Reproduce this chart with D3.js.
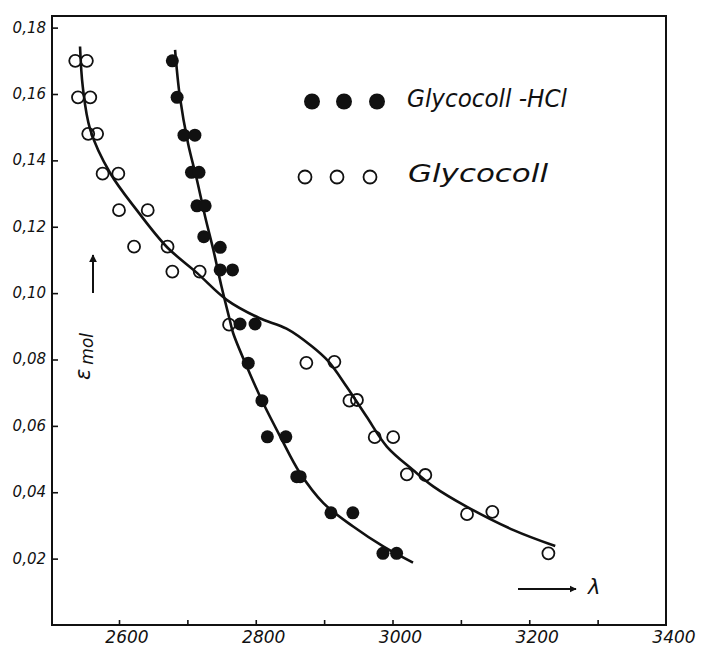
<!DOCTYPE html>
<html>
<head>
<meta charset="utf-8">
<script src="https://cdn.jsdelivr.net/npm/d3@7"></script>
<style>
  body { margin: 0; background: #fff; }
  svg { display: block; }
  text { fill: #111; font-family: "DejaVu Sans", sans-serif; font-style: italic; }
</style>
</head>
<body>
<script>
const width = 701;
const height = 646;

// Measured points, Glycocoll-HCl (filled circles)
const hclLambda = [2678, 2685, 2695, 2711, 2706, 2717, 2714, 2726, 2724, 2748, 2748, 2766,
  2777, 2799, 2789, 2809, 2817, 2844, 2860, 2865, 2910, 2942, 2986, 3006];
const hclEps = [0.170, 0.159, 0.1476, 0.1476, 0.1364, 0.1364, 0.1263, 0.1263, 0.117, 0.1138, 0.107, 0.107,
  0.0907, 0.0907, 0.0789, 0.0676, 0.0567, 0.0567, 0.0447, 0.0447, 0.0338, 0.0338, 0.0216, 0.0216];

// Measured points, Glycocoll (open circles)
const glyLambda = [2536, 2553, 2540, 2558, 2555, 2568, 2576, 2599, 2600, 2642, 2622, 2671, 2678, 2718,
  2761, 2874, 2915, 2937, 2948, 2974, 3001, 3021, 3048, 3109, 3146, 3228];
const glyEps = [0.170, 0.170, 0.159, 0.159, 0.148, 0.148, 0.136, 0.136, 0.125, 0.125, 0.114, 0.114, 0.1065, 0.1065,
  0.0905, 0.079, 0.0793, 0.0676, 0.0678, 0.0566, 0.0566, 0.0454, 0.0452, 0.0334, 0.0341, 0.0216];

// Hand-drawn fitted curves
const hclCurveLambda = [2682, 2689, 2701, 2714, 2726, 2738, 2750, 2762, 2767, 2787, 2811, 2836, 2865, 2899, 2943, 2987, 3030];
const hclCurveEps = [0.1733, 0.1592, 0.1451, 0.1341, 0.1230, 0.1130, 0.1019, 0.0919, 0.0879, 0.0778, 0.0668, 0.0567,
  0.0457, 0.0367, 0.0296, 0.0236, 0.0188];
const glyCurveLambda = [2543, 2547, 2558, 2587, 2626, 2670, 2714, 2758, 2805, 2845, 2882, 2906, 2933, 2962, 2992,
  3030, 3060, 3109, 3177, 3238];
const glyCurveEps = [0.1743, 0.1622, 0.1492, 0.1362, 0.1250, 0.1139, 0.1061, 0.0979, 0.0925, 0.0893, 0.0840, 0.0795,
  0.0718, 0.0628, 0.0537, 0.0467, 0.0417, 0.0356, 0.0286, 0.0238];

// Axis ticks
const xTicks = [2600, 2700, 2800, 2900, 3000, 3100, 3200, 3300];
const xLabels = [2600, 2800, 3000, 3200, 3400];
const yTicks = [0.02, 0.04, 0.06, 0.08, 0.10, 0.12, 0.14, 0.16, 0.18];
const yLabels = ["0,02", "0,04", "0,06", "0,08", "0,10", "0,12", "0,14", "0,16", "0,18"];

const legendNames = ["Glycocoll -HCl", "Glycocoll"];

const plot = { left: 52, right: 666, top: 16, bottom: 625 };

const svg = d3.select("body").append("svg")
  .attr("width", width)
  .attr("height", height);

const x = d3.scaleLinear().domain([2502, 3400]).range([plot.left, plot.right]);
const y = d3.scaleLinear().domain([0, 0.1835]).range([plot.bottom, plot.top]);

// Frame
svg.append("rect")
  .attr("x", plot.left).attr("y", plot.top)
  .attr("width", plot.right - plot.left).attr("height", plot.bottom - plot.top)
  .attr("fill", "none").attr("stroke", "#111").attr("stroke-width", 2);

// Bottom axis, ticks pointing inside
const xAxis = svg.append("g")
  .attr("transform", `translate(0,${plot.bottom})`)
  .call(d3.axisBottom(x).tickValues(xTicks).tickSize(-5).tickFormat(""));
xAxis.select(".domain").remove();
xAxis.selectAll("line").attr("stroke", "#111").attr("stroke-width", 1.6);

svg.append("g").selectAll("text")
  .data(xLabels)
  .enter().append("text")
  .attr("x", d => x(d) + 8)
  .attr("y", 643)
  .attr("text-anchor", "middle")
  .style("font-size", "17px")
  .text(d => d);

// Left axis, ticks pointing inside
const yAxis = svg.append("g")
  .attr("transform", `translate(${plot.left},0)`)
  .call(d3.axisLeft(y).tickValues(yTicks).tickSize(-6).tickFormat(""));
yAxis.select(".domain").remove();
yAxis.selectAll("line").attr("stroke", "#111").attr("stroke-width", 1.6);

svg.append("g").selectAll("text")
  .data(yTicks)
  .enter().append("text")
  .attr("x", 46)
  .attr("y", d => y(d) + 5)
  .attr("text-anchor", "end")
  .style("font-size", "15px")
  .text((d, i) => yLabels[i]);

// Arrow marker
svg.append("defs").append("marker")
  .attr("id", "arrow")
  .attr("viewBox", "0 0 10 10")
  .attr("refX", 9).attr("refY", 5)
  .attr("markerWidth", 4).attr("markerHeight", 4)
  .attr("orient", "auto")
  .append("path")
  .attr("d", "M0,0 L10,5 L0,10 z")
  .attr("fill", "#111");

// Axis titles
svg.append("line")
  .attr("x1", 93).attr("y1", 293).attr("x2", 93).attr("y2", 255)
  .attr("stroke", "#111").attr("stroke-width", 2)
  .attr("marker-end", "url(#arrow)");

const yTitle = svg.append("text")
  .attr("transform", "translate(90,380) rotate(-90)");
yTitle.append("tspan").style("font-size", "21px").text("ε");
yTitle.append("tspan").attr("dx", 4).attr("dy", 3).style("font-size", "17px").text("mol");

svg.append("line")
  .attr("x1", 518).attr("y1", 589).attr("x2", 576).attr("y2", 589)
  .attr("stroke", "#111").attr("stroke-width", 1.8)
  .attr("marker-end", "url(#arrow)");
svg.append("text")
  .attr("x", 588).attr("y", 594)
  .style("font-size", "21px")
  .text("λ");

// Curves
const line = d3.line()
  .x(d => x(d[0]))
  .y(d => y(d[1]))
  .curve(d3.curveCatmullRom.alpha(0.5));

svg.append("path")
  .datum(glyCurveLambda.map((v, i) => [v, glyCurveEps[i]]))
  .attr("d", line)
  .attr("fill", "none").attr("stroke", "#111").attr("stroke-width", 2.6);

svg.append("path")
  .datum(hclCurveLambda.map((v, i) => [v, hclCurveEps[i]]))
  .attr("d", line)
  .attr("fill", "none").attr("stroke", "#111").attr("stroke-width", 2.6);

// Points
svg.append("g").selectAll("circle")
  .data(glyLambda.map((v, i) => [v, glyEps[i]]))
  .enter().append("circle")
  .attr("cx", d => x(d[0]))
  .attr("cy", d => y(d[1]))
  .attr("r", 6)
  .attr("fill", "#fff")
  .attr("fill-opacity", 0)
  .attr("stroke", "#111")
  .attr("stroke-width", 1.8);

svg.append("g").selectAll("circle")
  .data(hclLambda.map((v, i) => [v, hclEps[i]]))
  .enter().append("circle")
  .attr("cx", d => x(d[0]))
  .attr("cy", d => y(d[1]))
  .attr("r", 6.5)
  .attr("fill", "#111");

// Legend
const legend = svg.append("g");
[312, 344, 377].forEach(cx => {
  legend.append("circle").attr("cx", cx).attr("cy", 101.5).attr("r", 8).attr("fill", "#111");
});
[305, 337, 370].forEach(cx => {
  legend.append("circle").attr("cx", cx).attr("cy", 177).attr("r", 6.5)
    .attr("fill", "none").attr("stroke", "#111").attr("stroke-width", 1.8);
});
legend.append("text")
  .attr("x", 407).attr("y", 107)
  .attr("textLength", 160)
  .attr("lengthAdjust", "spacingAndGlyphs")
  .style("font-size", "25px")
  .text(legendNames[0]);
legend.append("text")
  .attr("x", 408).attr("y", 182)
  .attr("textLength", 140)
  .attr("lengthAdjust", "spacingAndGlyphs")
  .style("font-size", "25px")
  .text(legendNames[1]);
</script>
</body>
</html>
